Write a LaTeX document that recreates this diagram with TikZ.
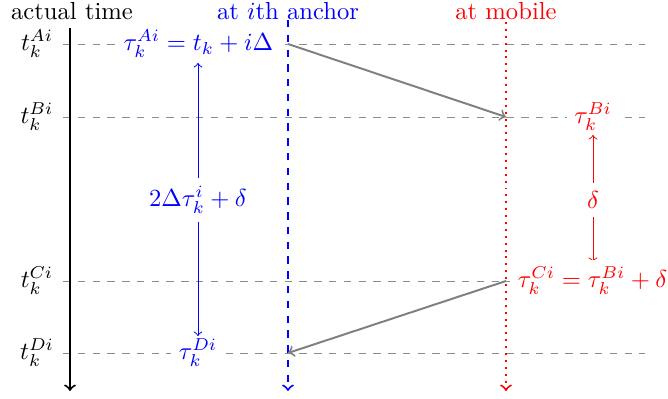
\documentclass[tikz,border=0pt]{standalone}
\begin{document}
\begin{tikzpicture}[x=0.406pt,y=-0.406pt,
  level/.style={gray!90,dashed},
  msg/.style={gray,thick,->},
  lbl/.style={inner sep=3pt,fill=white}]
\useasboundingbox (0,0) rectangle (668,399);
% headers
\node (hT) at (72,11) {actual time};
\node[blue] (hA) at (288,11) {at $i$th anchor};
\node[red] (hM) at (506,11) {at mobile};
% level coordinates
\foreach \n/\y in {A/44,B/117,C/281,D/353}{
  \coordinate (l\n) at (63,\y);
  \coordinate (r\n) at (645,\y);
  \coordinate (a\n) at (288,\y);
  \coordinate (m\n) at (506,\y);
  \draw[level] (l\n) -- (r\n);
  \node[inner sep=2pt] (t\n) at (37,\y) {$t_k^{\n i}$};
}
% time axes
\coordinate (axT) at (70,28); \coordinate (axB) at (70,391);
\draw[thick,->] (axT) -- (axB);
\coordinate (anT) at (288,20); \coordinate (anB) at (288,391);
\draw[blue,thick,dashed,->] (anT) -- (anB);
\coordinate (moT) at (506,22); \coordinate (moB) at (506,391);
\draw[red,thick,dotted,->] (moT) -- (moB);
% messages
\draw[msg] (aA) -- (mB);
\draw[msg] (mC) -- (aD);
% anchor side labels
\node[blue,anchor=east,lbl] (tauA) at (281,44) {$\tau_k^{Ai}=t_k+i\Delta$};
\node[blue,lbl] (tauD) at (198,353) {$\tau_k^{Di}$};
\node[blue] (mid) at (198,200) {$2\Delta\tau_k^i+\delta$};
\coordinate (midT) at (198,63); \coordinate (midB) at (198,336);
\draw[blue,->] (mid) -- (midT);
\draw[blue,->] (mid) -- (midB);
% mobile side labels
\node[red,lbl] (tauB) at (593,117) {$\tau_k^{Bi}$};
\node[red] (del) at (593,200) {$\delta$};
\coordinate (delT) at (593,135); \coordinate (delB) at (593,262);
\draw[red,->] (del) -- (delT);
\draw[red,->] (del) -- (delB);
\node[red,anchor=west,lbl] (tauC) at (510,281) {$\tau_k^{Ci}=\tau_k^{Bi}+\delta$};
\end{tikzpicture}
\end{document}
